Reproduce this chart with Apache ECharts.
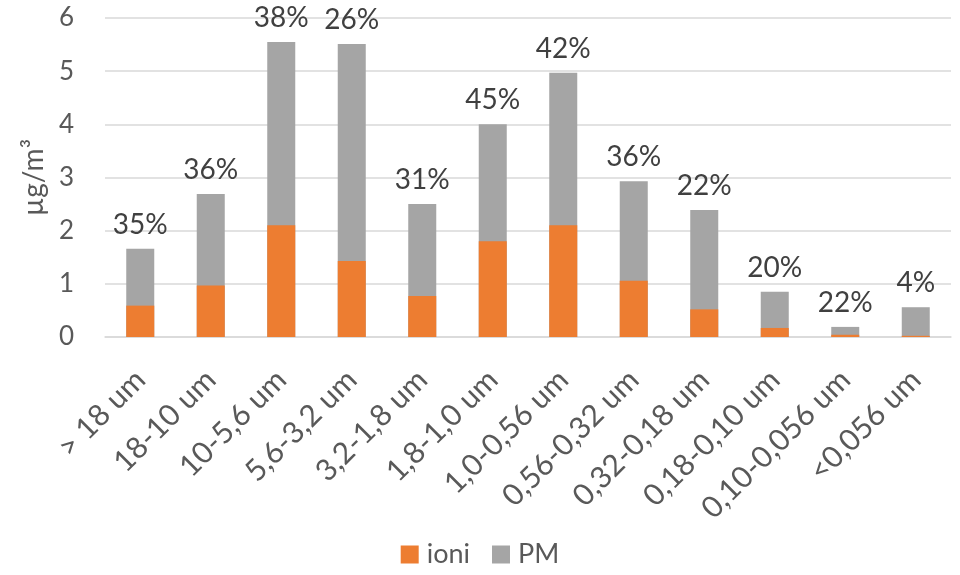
<!DOCTYPE html>
<html>
<head>
<meta charset="utf-8">
<script src="https://cdn.jsdelivr.net/npm/echarts@6/dist/echarts.min.js"></script>
<style>html,body{margin:0;padding:0;background:#fff;}#chart{width:960px;height:575px;}</style>
</head>
<body>
<div id="chart"></div>
<script>
const categories = ['> 18 um','18-10 um','10-5,6 um','5,6-3,2 um','3,2-1,8 um','1,8-1,0 um','1,0-0,56 um','0,56-0,32 um','0,32-0,18 um','0,18-0,10 um','0,10-0,056 um','<0,056 um'];
const ioni = [0.59, 0.97, 2.10, 1.43, 0.77, 1.80, 2.10, 1.06, 0.52, 0.17, 0.042, 0.022];
const pm = [1.66, 2.69, 5.55, 5.51, 2.50, 4.00, 4.97, 2.93, 2.39, 0.85, 0.19, 0.56];
const pctLabels = ['35%','36%','38%','26%','31%','45%','42%','36%','22%','20%','22%','4%'];
const yTicks = [0, 1, 2, 3, 4, 5, 6];

const FONT = 'Lato';
const chart = echarts.init(document.getElementById('chart'), null, {renderer: 'canvas'});
chart.setOption({
  animation: false,
  backgroundColor: '#ffffff',
  textStyle: {fontFamily: FONT},
  grid: {left: 105, right: 9, top: 18, bottom: 238},
  legend: {
    data: ['ioni', 'PM'],
    bottom: 2,
    left: 'center',
    itemWidth: 18,
    itemHeight: 18,
    itemGap: 22,
    icon: 'rect',
    textStyle: {fontFamily: FONT, fontSize: 27, color: '#595959', padding: [0, 0, 0, 3]}
  },
  xAxis: {
    type: 'category',
    data: categories,
    axisLine: {show: true, lineStyle: {color: '#d9d9d9', width: 1.5}},
    axisTick: {show: false},
    axisLabel: {rotate: 45, margin: 38, fontSize: 30, color: '#595959', fontFamily: FONT, interval: 0}
  },
  yAxis: {
    type: 'value',
    min: yTicks[0],
    max: yTicks[yTicks.length - 1],
    interval: 1,
    name: 'µg/m³',
    nameLocation: 'middle',
    nameRotate: 90,
    nameGap: 48,
    nameTextStyle: {fontSize: 28, color: '#595959', fontFamily: FONT},
    axisLine: {show: false},
    axisTick: {show: false},
    axisLabel: {margin: 31, fontSize: 26, color: '#595959', fontFamily: FONT},
    splitLine: {lineStyle: {color: '#d9d9d9', width: 1.5}}
  },
  series: [
    {
      name: 'PM',
      type: 'bar',
      data: pm,
      barWidth: 28,
      itemStyle: {color: '#a5a5a5'},
      label: {
        show: true,
        position: 'top',
        distance: 10,
        fontSize: 28,
        color: '#404040',
        fontFamily: FONT,
        formatter: function (p) { return pctLabels[p.dataIndex]; }
      },
      z: 2
    },
    {
      name: 'ioni',
      type: 'bar',
      data: ioni,
      barWidth: 28,
      barGap: '-100%',
      itemStyle: {color: '#ed7d31'},
      z: 3
    }
  ]
});
</script>
</body>
</html>
